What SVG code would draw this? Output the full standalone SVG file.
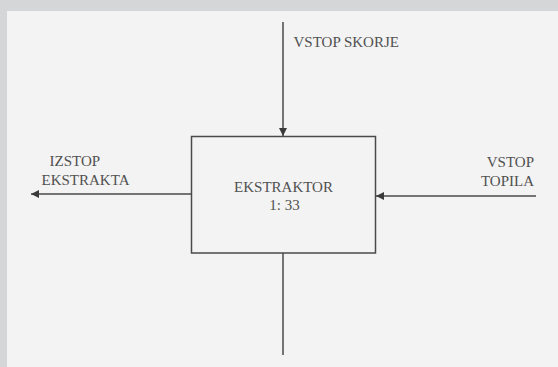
<svg xmlns="http://www.w3.org/2000/svg" width="558" height="367" viewBox="0 0 558 367">
<style>
.t{font-family:"Liberation Serif","Times New Roman",serif;font-size:15px;fill:#505050}
.c{stroke:#4a4a4a;stroke-width:1.5;fill:none}
</style>
<defs>
<marker id="ah" viewBox="0 0 10 10" refX="10" refY="5" markerWidth="9" markerHeight="8" markerUnits="userSpaceOnUse" orient="auto">
<path d="M0,0 L10,5 L0,10 Z" fill="#3a3a3a"/>
</marker>
</defs>
<rect x="0" y="0" width="558" height="367" fill="#d5d6d8"/>
<rect x="7" y="11" width="551" height="356" fill="#f3f3f3"/>
<g id="connectors">
<line class="c" x1="283" y1="22" x2="283" y2="136" marker-end="url(#ah)"/>
<line class="c" x1="191" y1="194" x2="31" y2="194" marker-end="url(#ah)"/>
<line class="c" x1="536" y1="196" x2="376" y2="196" marker-end="url(#ah)"/>
<line class="c" x1="283" y1="253" x2="283" y2="355"/>
</g>
<g id="ekstraktor">
<rect class="c" x="191.5" y="136.5" width="184" height="116.5"/>
<text class="t" x="283.5" y="192" text-anchor="middle">EKSTRAKTOR</text>
<text class="t" x="284.5" y="210" text-anchor="middle">1: 33</text>
</g>
<g id="vstop-skorje">
<text class="t" x="293.5" y="47">VSTOP SKORJE</text>
</g>
<g id="izstop-ekstrakta">
<text class="t" x="49.5" y="166">IZSTOP</text>
<text class="t" x="41.5" y="184.5">EKSTRAKTA</text>
</g>
<g id="vstop-topila">
<text class="t" x="534" y="167" text-anchor="end">VSTOP</text>
<text class="t" x="534" y="185.5" text-anchor="end">TOPILA</text>
</g>
</svg>
